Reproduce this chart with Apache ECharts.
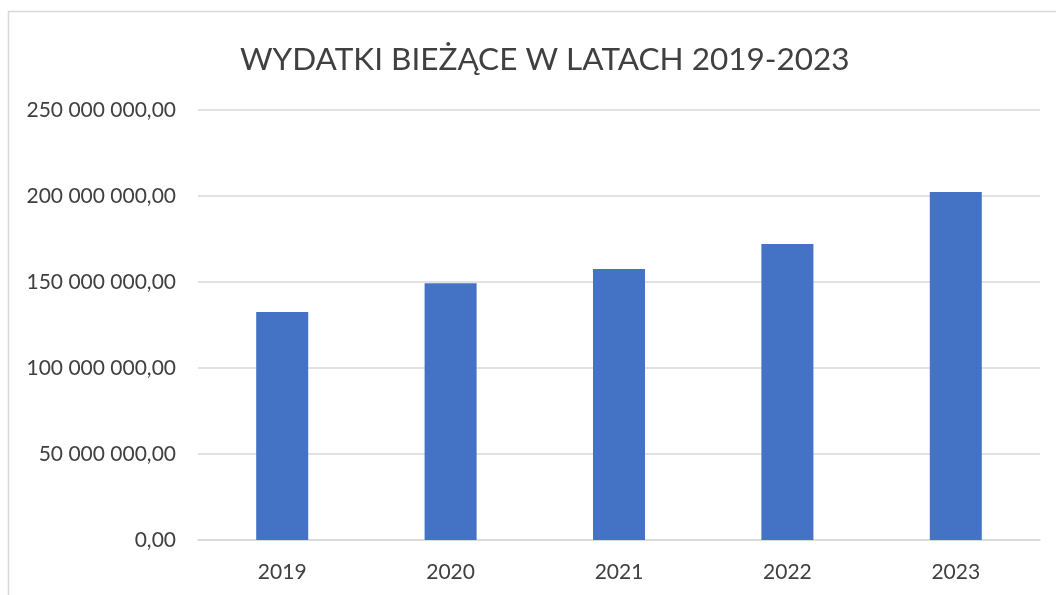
<!DOCTYPE html>
<html><head><meta charset="utf-8">
<script src="https://cdn.jsdelivr.net/npm/echarts@6/dist/echarts.min.js"></script>
<style>html,body{margin:0;padding:0;background:#fff}#c{width:1056px;height:595px}</style>
</head><body><div id="c"></div>
<script>
const categories = ['2019','2020','2021','2022','2023'];
const values = [132500000, 149300000, 157600000, 172100000, 202300000];
const titleText = 'WYDATKI BIEŻĄCE W LATACH 2019-2023';

function fmt(v){
  const s = Math.round(v).toString().replace(/\B(?=(\d{3})+(?!\d))/g,' ');
  return s + ',00';
}
const chart = echarts.init(document.getElementById('c'));
chart.setOption({
  backgroundColor:'#fff',
  animation:false,
  graphic:[{type:'rect',shape:{x:8.5,y:11.5,width:1100,height:700},style:{fill:'none',stroke:'#d9d9d9',lineWidth:1.5},silent:true}],
  title:{text:titleText,left:235,top:39,textStyle:{fontFamily:'Lato',fontWeight:'normal',fontSize:31.5,color:'#404040'}},
  grid:{left:198,right:16,top:110,bottom:55},
  xAxis:{type:'category',data:categories,axisTick:{show:false},
    axisLine:{lineStyle:{color:'#d9d9d9',width:1.5}},
    axisLabel:{fontFamily:'Lato',fontSize:21,color:'#404040',margin:22}},
  yAxis:{type:'value',min:0,max:250000000,interval:50000000,
    axisLine:{show:false},axisTick:{show:false},
    splitLine:{lineStyle:{color:'#d9d9d9',width:1.5}},
    axisLabel:{fontFamily:'Lato',fontSize:21,color:'#404040',margin:22,formatter:fmt}},
  series:[{type:'bar',data:values,barWidth:52,itemStyle:{color:'#4472C4'}}]
});
</script></body></html>
